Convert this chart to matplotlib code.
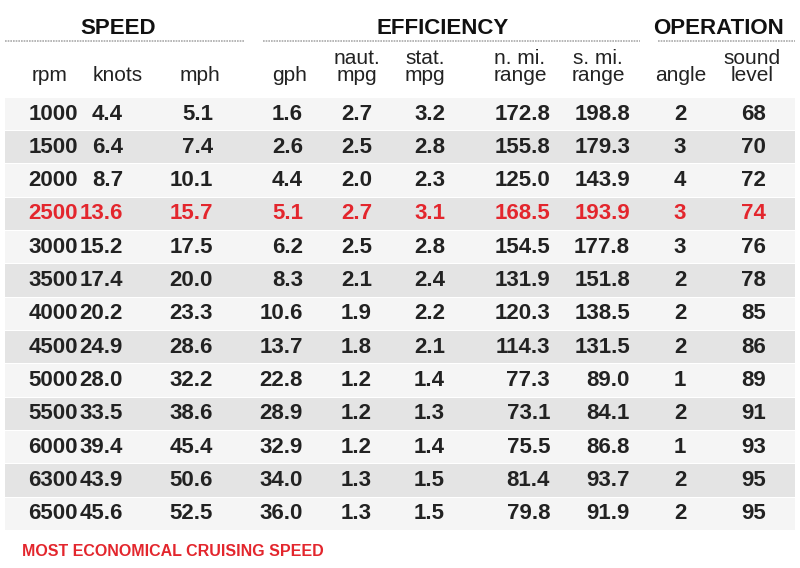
import matplotlib
matplotlib.use("Agg")
import matplotlib.pyplot as plt
from matplotlib.patches import Rectangle
from matplotlib import font_manager as fm

names = {f.name for f in fm.fontManager.ttflist}
FAM = ['Liberation Sans Narrow', 'DejaVu Sans'] if 'Liberation Sans Narrow' in names else ['Liberation Sans', 'DejaVu Sans']

rpm = [1000,1500,2000,2500,3000,3500,4000,4500,5000,5500,6000,6300,6500]
knots = ["4.4","6.4","8.7","13.6","15.2","17.4","20.2","24.9","28.0","33.5","39.4","43.9","45.6"]
mph = ["5.1","7.4","10.1","15.7","17.5","20.0","23.3","28.6","32.2","38.6","45.4","50.6","52.5"]
gph = ["1.6","2.6","4.4","5.1","6.2","8.3","10.6","13.7","22.8","28.9","32.9","34.0","36.0"]
naut_mpg = ["2.7","2.5","2.0","2.7","2.5","2.1","1.9","1.8","1.2","1.2","1.2","1.3","1.3"]
stat_mpg = ["3.2","2.8","2.3","3.1","2.8","2.4","2.2","2.1","1.4","1.3","1.4","1.5","1.5"]
nmi_range = ["172.8","155.8","125.0","168.5","154.5","131.9","120.3","114.3","77.3","73.1","75.5","81.4","79.8"]
smi_range = ["198.8","179.3","143.9","193.9","177.8","151.8","138.5","131.5","89.0","84.1","86.8","93.7","91.9"]
angle = [2,3,4,3,3,2,2,2,1,2,1,2,2]
sound = [68,70,72,74,76,78,85,86,89,91,93,95,95]
highlight_rpm = 2500
col_labels = ["rpm","knots","mph","gph","naut.\nmpg","stat.\nmpg","n. mi.\nrange","s. mi.\nrange","angle","sound\nlevel"]
groups = ["SPEED","EFFICIENCY","OPERATION"]
footer = "MOST ECONOMICAL CRUISING SPEED"

W, H = 800, 568
fig = plt.figure(figsize=(8, 5.68), dpi=100)
ax = fig.add_axes([0, 0, 1, 1])
ax.set_xlim(0, W); ax.set_ylim(H, 0); ax.axis('off')

RED = '#e3262d'; DARK = '#222222'
gx = [(118, 5, 245), (443, 263, 640), (718, 658, 795)]
for g, (cx, x0, x1) in zip(groups, gx):
    ax.text(cx, 28, g, ha='center', va='center', fontsize=16, fontweight='bold', color='#111', family=FAM)
    ax.plot([x0, x1], [41, 41], color='#aaaaaa', lw=1.2, ls=(0, (1, 0.6)))

hx = [50, 118, 200, 290, 357, 425, 520, 598, 681, 752]
for lab, x in zip(col_labels, hx):
    ax.text(x, 85, lab, ha='center', va='bottom', fontsize=15, color=DARK, family=FAM, linespacing=0.9)

cols = [[str(r) for r in rpm], knots, mph, gph, naut_mpg, stat_mpg, nmi_range, smi_range,
        [str(a) for a in angle], [str(s) for s in sound]]
xs = [78, 123, 213, 303, 372, 445, 550, 630, 680, 766]
has = ['right']*8 + ['center', 'right']
y0, dy = 114, 33.33
for i in range(len(rpm)):
    y = y0 + i*dy
    ax.add_patch(Rectangle((5, y - dy/2 + 0.5), 790, dy - 1, color='#e4e4e4' if i % 2 else '#f5f5f5', lw=0, zorder=0))
    c = RED if rpm[i] == highlight_rpm else DARK
    for col, x, ha in zip(cols, xs, has):
        ax.text(x, y, col[i], ha=ha, va='center', fontsize=16, fontweight='bold', color=c, family=FAM)

ax.text(22, 551, footer, ha='left', va='center', fontsize=11.5, fontweight='bold', color=RED, family=FAM)
fig.savefig('out.png', dpi=100)
